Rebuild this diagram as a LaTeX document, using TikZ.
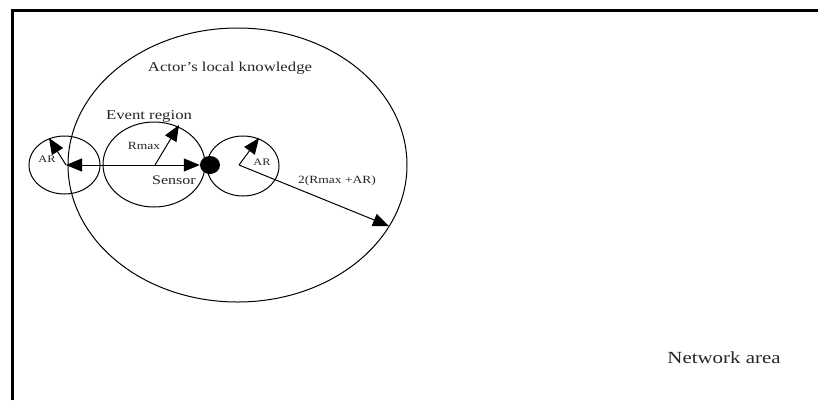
\documentclass[tikz,border=0pt]{standalone}
\usepackage{fontspec}
\setmainfont{Liberation Serif}[FakeStretch=1.23]
\usetikzlibrary{arrows.meta,shapes.geometric}
\begin{document}
\begin{tikzpicture}[x=1pt,y=-1pt,
  region/.style={draw,ellipse,line width=1pt,inner sep=0pt},
  ray/.style={line width=1pt,-{Triangle[length=16pt,width=13pt]}},
  lbl/.style={text=black!85,inner sep=0pt}]
\useasboundingbox (0,0) rectangle (818,400);
\fill[white] (0,0) rectangle (818,400);
% frame along the top and left sides
\draw[line width=3pt] (12.5,400) |- (818,10.5);

% regions
\node[region,minimum width=339pt,minimum height=274pt] (know) at (237.5,165) {};
\node[region,minimum width=102pt,minimum height=85pt] (event) at (154,164.5) {};
\node[region,minimum width=71pt,minimum height=58pt] (arL) at (64.5,165) {};
\node[region,minimum width=72pt,minimum height=60pt] (arR) at (243,166) {};
\node[fill=black,ellipse,minimum width=20pt,minimum height=18pt,inner sep=0pt] (sensor) at (210,165) {};

% arrow end points
\coordinate (lc) at (66,165);
\coordinate (rc) at (239,165);
\coordinate (ec) at (155,165);
\coordinate (arLtip) at (49,138);
\coordinate (arRtip) at (259,138);
\coordinate (rmaxtip) at (179,125);
\coordinate (knowtip) at (389,226);

% radii
\draw[line width=1pt,{Triangle[length=16pt,width=13pt]}-{Triangle[length=16pt,width=13pt]}] (lc) -- (sensor.west);
\draw[ray] (lc) -- (arLtip);
\draw[ray] (ec) -- (rmaxtip);
\draw[ray] (rc) -- (arRtip);
\draw[ray] (rc) -- (knowtip);

% labels
\node[lbl,font=\fontsize{13.6}{16}\selectfont] (lknow) at (230,68) {Actor's local knowledge};
\node[lbl,font=\fontsize{13.6}{16}\selectfont] (levent) at (149,116) {Event region};
\node[lbl,font=\fontsize{11}{13}\selectfont] (lrmax) at (144,146) {Rmax};
\node[lbl,font=\fontsize{10}{12}\selectfont] (larL) at (47,159) {AR};
\node[lbl,font=\fontsize{13}{15}\selectfont] (lsensor) at (174,180) {Sensor};
\node[lbl,font=\fontsize{10}{12}\selectfont] (larR) at (262,162) {AR};
\node[lbl,font=\fontsize{11}{13}\selectfont] (lrad) at (337,181) {2(Rmax +AR)};
\node[lbl,font=\fontsize{17}{20}\selectfont] (lnet) at (724,358) {Network area};
\end{tikzpicture}
\end{document}
